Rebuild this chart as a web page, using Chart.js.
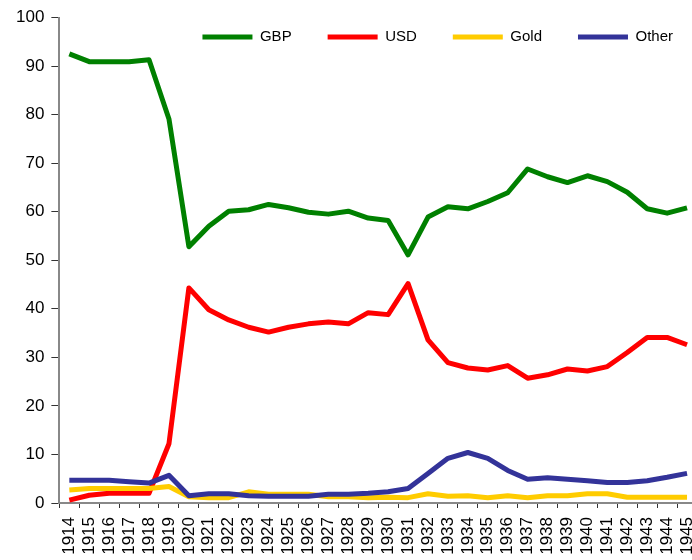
<!DOCTYPE html>
<html lang="en">
<head>
    <meta charset="UTF-8">
    <title>Currency shares 1914-1945</title>
    <script src="https://cdn.jsdelivr.net/npm/chart.js"></script>
    <style>
        html, body { margin: 0; padding: 0; background: #fff; overflow: hidden; }
        #wrap { width: 692px; height: 560px; overflow: hidden; }
    </style>
</head>
<body>
    <div id="wrap">
        <canvas id="shareChart" width="700" height="560"></canvas>
    </div>
    <script>
        // Years on the x axis
        const years = ['1914', '1915', '1916', '1917', '1918', '1919', '1920', '1921', '1922', '1923',
            '1924', '1925', '1926', '1927', '1928', '1929', '1930', '1931', '1932', '1933',
            '1934', '1935', '1936', '1937', '1938', '1939', '1940', '1941', '1942', '1943',
            '1944', '1945'];

        // Shares (%)
        const gbp = [92.5, 90.9, 90.9, 90.9, 91.3, 79.1, 52.8, 57.0, 60.1, 60.4,
            61.5, 60.8, 59.9, 59.5, 60.1, 58.7, 58.2, 51.1, 58.9, 61.0,
            60.6, 62.1, 63.9, 68.8, 67.2, 66.0, 67.4, 66.2, 64.0, 60.6,
            59.7, 60.8];
        const usd = [0.6, 1.6, 2.0, 2.0, 2.0, 12.2, 44.3, 39.8, 37.7, 36.2,
            35.2, 36.2, 36.9, 37.3, 36.9, 39.2, 38.8, 45.2, 33.6, 28.9,
            27.8, 27.4, 28.3, 25.7, 26.4, 27.6, 27.2, 28.1, 31.0, 34.1,
            34.1, 32.6];
        const gold = [2.7, 3.0, 3.0, 3.0, 3.0, 3.4, 1.3, 1.1, 1.1, 2.3,
            1.8, 1.8, 1.8, 1.3, 1.3, 1.1, 1.2, 1.1, 1.9, 1.4,
            1.5, 1.1, 1.5, 1.1, 1.5, 1.5, 1.9, 1.9, 1.2, 1.2,
            1.2, 1.2];
        const other = [4.7, 4.7, 4.7, 4.4, 4.1, 5.7, 1.5, 1.9, 1.9, 1.5,
            1.4, 1.4, 1.4, 1.8, 1.8, 2.0, 2.3, 3.0, 6.1, 9.2,
            10.4, 9.2, 6.7, 4.9, 5.2, 4.9, 4.6, 4.2, 4.2, 4.6,
            5.3, 6.1];

        const yTicks = [0, 10, 20, 30, 40, 50, 60, 70, 80, 90, 100];

        function series(label, data, color, order) {
            return {
                label: label,
                data: data,
                borderColor: color,
                backgroundColor: color,
                borderWidth: 5,
                pointRadius: 0,
                tension: 0,
                fill: false,
                borderJoinStyle: 'round',
                order: order
            };
        }

        // let the legend sit over the top of the plot instead of taking room
        const flatLegend = {
            id: 'flatLegend',
            beforeLayout(chart) {
                const legend = chart.legend;
                if (!legend || legend._flat) return;
                const fit = legend.fit;
                legend.fit = function () {
                    fit.call(this);
                    this.height = 24;
                };
                legend._flat = true;
            },
            afterLayout(chart) {
                // legend clips to its own box, so open it up again
                const legend = chart.legend;
                if (!legend) return;
                legend.bottom = legend.top + 60;
                legend.right = chart.chartArea.right + 12;
            }
        };

        Chart.defaults.font.family = '"Liberation Sans", Arial, sans-serif';
        Chart.defaults.color = '#000';

        const ctx = document.getElementById('shareChart').getContext('2d');
        const shareChart = new Chart(ctx, {
            type: 'line',
            data: {
                labels: years,
                datasets: [
                    series('GBP', gbp, '#008000', 4),
                    series('USD', usd, '#ff0000', 3),
                    series('Gold', gold, '#ffcc00', 2),
                    series('Other', other, '#333399', 1)
                ]
            },
            plugins: [flatLegend],
            options: {
                responsive: false,
                animation: false,
                layout: {
                    padding: { top: -6.5, left: 9, right: 3, bottom: 0 }
                },
                plugins: {
                    tooltip: { enabled: false },
                    legend: {
                        position: 'top',
                        align: 'end',
                        labels: {
                            boxWidth: 50,
                            boxHeight: 5,
                            padding: 36,
                            color: '#000',
                            font: { size: 15 },
                            sort: (a, b) => a.datasetIndex - b.datasetIndex,
                            generateLabels(chart) {
                                const items = Chart.defaults.plugins.legend.labels.generateLabels(chart);
                                items.forEach(item => { item.lineWidth = 0; });
                                return items;
                            }
                        }
                    }
                },
                scales: {
                    x: {
                        type: 'category',
                        offset: true,
                        grid: {
                            offset: true,
                            drawOnChartArea: false,
                            tickLength: 5,
                            color: '#333'
                        },
                        border: { color: '#888', width: 2 },
                        ticks: {
                            autoSkip: false,
                            maxRotation: 90,
                            minRotation: 90,
                            padding: 9,
                            font: { size: 17 },
                            color: '#000'
                        },
                        afterFit(scale) {
                            scale.height = 57;
                            scale.paddingLeft = 0;
                            scale.paddingRight = 0;
                        }
                    },
                    y: {
                        min: 0,
                        max: 100,
                        afterBuildTicks(scale) {
                            scale.ticks = yTicks.map(v => ({ value: v }));
                        },
                        grid: {
                            drawOnChartArea: false,
                            tickLength: 8,
                            color: '#333'
                        },
                        border: { color: '#888', width: 2 },
                        ticks: {
                            padding: 7,
                            font: { size: 17 },
                            color: '#000'
                        }
                    }
                }
            }
        });
    </script>
</body>
</html>
